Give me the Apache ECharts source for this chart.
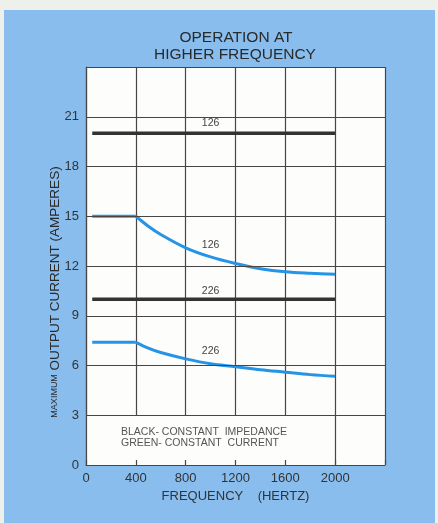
<!DOCTYPE html>
<html>
<head>
<meta charset="utf-8">
<script src="https://cdn.jsdelivr.net/npm/echarts@6/dist/echarts.min.js"></script>
<style>
  html, body { margin:0; padding:0; width:438px; height:523px; background:#eef0ec; overflow:hidden; }
  #panel { position:absolute; left:4px; top:10px; width:431px; height:513px; background:#88bdee; }
  #chart { position:absolute; left:0; top:0; width:438px; height:523px; }
</style>
</head>
<body>
<div id="panel"></div>
<div id="chart"></div>
<script>
// ---- data ----
const xTickLabels = ['0', '400', '800', '1200', '1600', '2000'];
const yTickLabels = ['0', '3', '6', '9', '12', '15', '18', '21'];
const blackFreq = [50, 2000];
const black126 = [20, 20];
const black226 = [10, 10];
const blueFreq = [50, 400, 500, 600, 800, 1000, 1200, 1400, 1600, 1800, 2000];
const blue126 = [15, 15, 14.4, 13.9, 13.1, 12.55, 12.15, 11.84, 11.65, 11.56, 11.5];
const blue226 = [7.4, 7.4, 7.05, 6.78, 6.4, 6.1, 5.93, 5.75, 5.6, 5.45, 5.35];
const legendLines = ['BLACK- CONSTANT  IMPEDANCE', 'GREEN- CONSTANT  CURRENT'];
// note box region (x0, y0, x1, y1) in data units
const noteBox = [[0, 0, 1990, 2.96]];

const pairs = (xs, ys) => xs.map((x, i) => [x, ys[i]]);

const ink = '#333';
const gridInk = '#4a4545';
const blue = '#2593e6';
const paper = '#fdfdfb';
const font = 'Liberation Sans, Arial, sans-serif';

const chart = echarts.init(document.getElementById('chart'), null, { renderer: 'canvas' });

function labelPoint(text, x, y) {
  return {
    coord: [x, y], symbol: 'circle', symbolSize: 0,
    label: { show: true, formatter: text, position: 'inside', color: '#444', fontSize: 10.5, fontFamily: font }
  };
}

const option = {
  backgroundColor: 'transparent',
  animation: false,
  grid: { left: 86, right: 53, top: 67, bottom: 58, show: true, backgroundColor: paper, borderWidth: 0 },
  xAxis: [{
    type: 'value', min: 0, max: 2400, interval: 400, z: 0,
    axisLine: { show: false }, axisTick: { show: false },
    splitLine: { show: true, lineStyle: { color: gridInk, width: 1.2 } },
    axisLabel: {
      color: ink, fontSize: 13, fontFamily: font, margin: 7,
      formatter: (v) => { const i = Math.round(v / 400); return xTickLabels[i] !== undefined ? xTickLabels[i] : ''; }
    },
    name: 'FREQUENCY    (HERTZ)', nameLocation: 'middle', nameGap: 24,
    nameTextStyle: { color: ink, fontSize: 13, fontFamily: font }
  }, {
    type: 'value', min: 0, max: 2400, interval: 400, z: 5, position: 'bottom',
    axisLine: { show: true, lineStyle: { color: gridInk, width: 1.2 } },
    axisTick: { show: true, inside: true, length: 5, lineStyle: { color: gridInk, width: 1.2 } },
    axisLabel: { show: false }, splitLine: { show: false }
  }],
  yAxis: {
    type: 'value', min: 0, max: 24, interval: 3, z: 5,
    axisLine: { show: true, lineStyle: { color: gridInk, width: 1.2 } },
    axisTick: { show: false },
    splitLine: { show: true, lineStyle: { color: gridInk, width: 1.2 } },
    axisLabel: {
      color: ink, fontSize: 13, fontFamily: font, margin: 7,
      formatter: (v) => { const i = Math.round(v / 3); return yTickLabels[i] !== undefined ? yTickLabels[i] : ''; }
    }
  },
  series: [
    {
      name: 'note box', type: 'custom', z: 1, silent: true,
      data: noteBox,
      renderItem: function (params, api) {
        const p0 = api.coord([api.value(0), api.value(1)]);
        const p1 = api.coord([api.value(2), api.value(3)]);
        return {
          type: 'rect',
          shape: { x: p0[0], y: p1[1], width: p1[0] - p0[0], height: p0[1] - p1[1] },
          style: { fill: paper }
        };
      }
    },
    {
      name: 'Black 126', type: 'line', data: pairs(blackFreq, black126), symbol: 'none',
      lineStyle: { color: ink, width: 3.5 },
      markPoint: { data: [labelPoint('126', 1000, 20.6)] }
    },
    {
      name: 'Black 226', type: 'line', data: pairs(blackFreq, black226), symbol: 'none',
      lineStyle: { color: ink, width: 3.5 },
      markPoint: { data: [labelPoint('226', 1000, 10.5)] }
    },
    {
      name: 'Blue 126 flat', type: 'line', data: pairs(blueFreq, blue126).slice(0, 2), symbol: 'none',
      lineStyle: { color: blue, width: 3 }
    },
    {
      name: 'Blue 126', type: 'line', data: pairs(blueFreq, blue126).slice(1), symbol: 'none', smooth: 0.35,
      lineStyle: { color: blue, width: 3 },
      markPoint: { data: [labelPoint('126', 1000, 13.25)] }
    },
    {
      name: 'Blue 226 flat', type: 'line', data: pairs(blueFreq, blue226).slice(0, 2), symbol: 'none',
      lineStyle: { color: blue, width: 3 }
    },
    {
      name: 'Blue 226', type: 'line', data: pairs(blueFreq, blue226).slice(1), symbol: 'none', smooth: 0.35,
      lineStyle: { color: blue, width: 3 },
      markPoint: { data: [labelPoint('226', 1000, 6.85)] }
    }
  ],
  graphic: [
    { type: 'text', z: 100, x: 236, y: 38, style: { text: 'OPERATION AT', fill: '#2a2a2a', font: '15.5px ' + font, textAlign: 'center', textVerticalAlign: 'middle' } },
    { type: 'text', z: 100, x: 235, y: 55, style: { text: 'HIGHER FREQUENCY', fill: '#2a2a2a', font: '15.5px ' + font, textAlign: 'center', textVerticalAlign: 'middle' } },
    { type: 'text', z: 100, x: 55, y: 292, rotation: Math.PI / 2,
      style: {
        text: '{s|MAXIMUM} OUTPUT CURRENT (AMPERES)',
        rich: { s: { fontSize: 9, fontFamily: font, fill: '#2a2a2a' } },
        fill: '#2a2a2a', font: '13.5px ' + font, textAlign: 'center', textVerticalAlign: 'middle'
      } },
    { type: 'text', z: 100, x: 121, y: 432, style: { text: legendLines[0], fill: '#555', font: '10.5px ' + font, textVerticalAlign: 'middle' } },
    { type: 'text', z: 100, x: 121, y: 443, style: { text: legendLines[1], fill: '#555', font: '10.5px ' + font, textVerticalAlign: 'middle' } }
  ]
};
chart.setOption(option);
</script>
</body>
</html>
